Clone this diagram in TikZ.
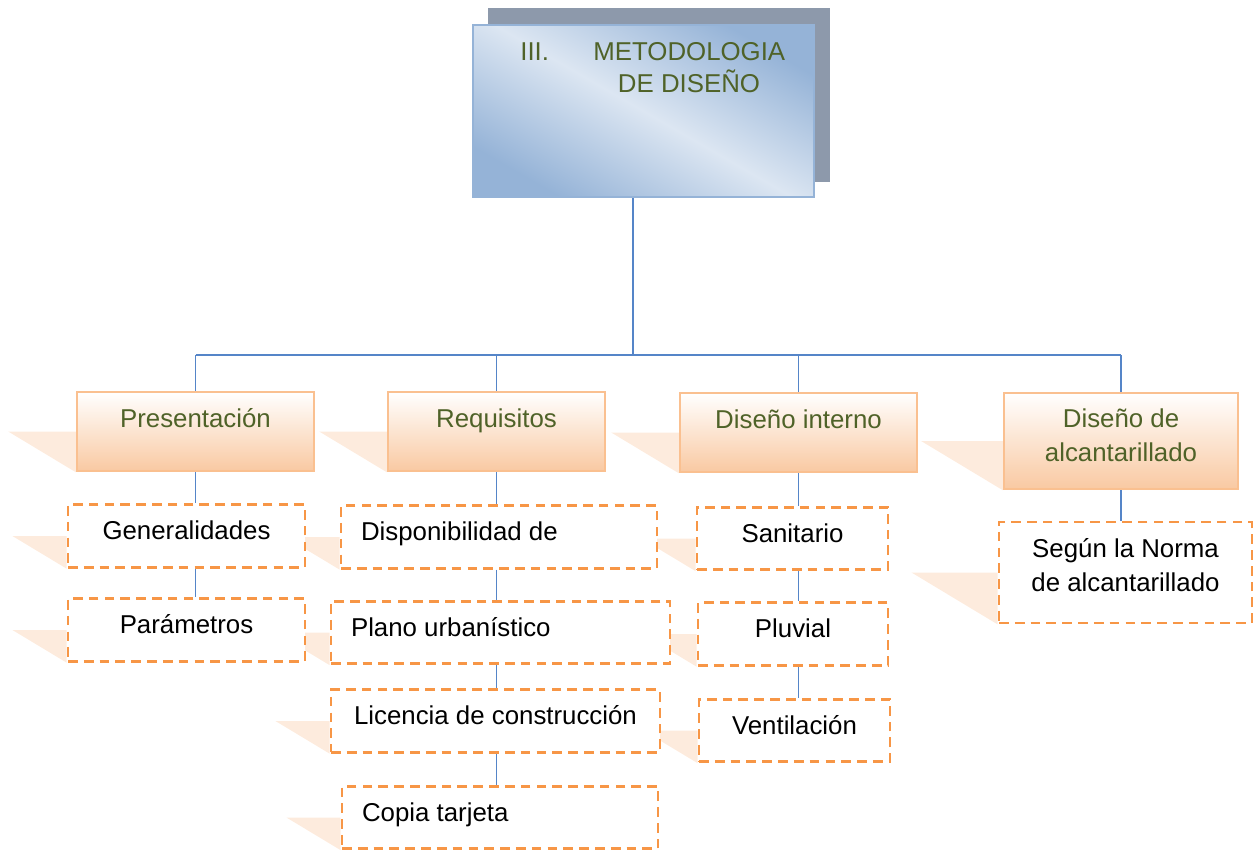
\documentclass[tikz,border=0pt]{standalone}
\usepackage{fontspec}
\setmainfont{Liberation Sans}
\usepackage{tikz}
\usetikzlibrary{calc}
\definecolor{linkblue}{HTML}{5585C8}
\definecolor{topedge}{HTML}{95B3D7}
\definecolor{toplight}{HTML}{DCE6F2}
\definecolor{topshade}{HTML}{8D99AB}
\definecolor{olive}{HTML}{4F6228}
\definecolor{catedge}{HTML}{FAC090}
\definecolor{catbot}{HTML}{F9C9A2}
\definecolor{dashorange}{HTML}{F79646}
\definecolor{wedgepeach}{HTML}{FDEBDD}
\tikzstyle{topbox} = [draw=topedge, line width=1.2pt, top color=topedge, bottom color=topedge,
	middle color=toplight, shading angle=-30, minimum width=6.82cm, minimum height=3.44cm]
\tikzstyle{toptext} = [text=olive, font=\fontsize{14.7}{20}\selectfont]
\tikzstyle{catbox} = [draw=catedge, line width=1.4pt, top color=white, bottom color=catbot, text=olive,
	font=\fontsize{14.7}{19.8}\selectfont, align=center, minimum height=1.58cm,
	text height=11pt, text depth=16pt]
\tikzstyle{subbox} = [draw=dashorange, line width=1.6pt, dash pattern=on 5.5pt off 3.5pt, fill=white,
	font=\fontsize{14.7}{19.8}\selectfont, align=center, minimum height=1.25cm,
	text height=11pt, text depth=6.5pt]
\tikzstyle{link} = [draw=linkblue, line width=0.8pt]
\tikzstyle{wedge} = [fill=wedgepeach]
\pgfdeclarelayer{background}
\pgfsetlayers{background,main}
\newcommand{\shadowof}[1]{\fill[wedge] let \p1=(#1.north west), \p2=(#1.south west) in
	(\x1-0.83*\y1+0.83*\y2, 0.5*\y1+0.5*\y2) -- (#1.west) -- (#1.south west) -- cycle;}
\newcommand{\flushtext}[2]{\makebox[#1][l]{#2}}

\begin{document}
\begin{tikzpicture}[x=0.02cm,y=-0.02cm,inner sep=0pt]
   \useasboundingbox (0,0) rectangle (1256,851);
   \node[topbox] (top) at (643.5,111) {};
   \node[toptext, anchor=base west] (topnum) at (520,61) {III.};
   \node[toptext, anchor=base west] (toptitle) at (593,61) {METODOLOGIA};
   \node[toptext, anchor=base] (toptitle2) at (689,93) {DE DISEÑO};

   \node[catbox, minimum width=4.74cm] (pres) at (195.5,431.5) {Presentación};
   \node[catbox, minimum width=4.34cm] (req) at (496.5,431.5) {Requisitos};
   \node[catbox, minimum width=4.74cm] (dint) at (798.5,432.5) {Diseño interno};
   \node[catbox, minimum width=4.68cm, minimum height=1.92cm, text height=30.8pt, text depth=7pt]
      (dalc) at (1121,441) {Diseño de\\alcantarillado};

   \node[subbox, minimum width=4.74cm] (gen) at (186.5,536) {Generalidades};
   \node[subbox, minimum width=4.74cm] (param) at (186.5,630) {Parámetros};
   \node[subbox, minimum width=6.32cm] (disp) at (499,537) {\flushtext{5.52cm}{Disponibilidad de}};
   \node[subbox, minimum width=6.78cm] (plano) at (500.5,632.5) {\flushtext{5.98cm}{Plano urbanístico}};
   \node[subbox, minimum width=6.58cm] (lic) at (495.5,721) {Licencia de construcción};
   \node[subbox, minimum width=6.32cm] (copia) at (500,817.5) {\flushtext{5.52cm}{Copia tarjeta}};
   \node[subbox, minimum width=3.82cm] (san) at (792.5,538.5) {Sanitario};
   \node[subbox, minimum width=3.80cm] (pluv) at (793,634) {Pluvial};
   \node[subbox, minimum width=3.82cm] (vent) at (794.5,730.5) {Ventilación};
   \node[subbox, minimum width=5.06cm, minimum height=2.02cm, text height=30.8pt, text depth=8.8pt]
      (norma) at (1125.5,572.5) {Según la Norma\\de alcantarillado};

   \begin{pgfonlayer}{background}
   \fill[topshade] ($(top.north west)+(16,-16)$) rectangle ($(top.south east)+(15,-16)$);
   \foreach \b in {pres,req,dint,dalc,gen,param,disp,plano,lic,copia,san,pluv,vent,norma}
      \shadowof{\b};
   \end{pgfonlayer}

   \coordinate (hub) at (633,355);
   \draw[link] (hub |- top.south) -- (hub);
   \draw[link] (hub -| pres.north) -- (hub -| dalc.north);
   \foreach \b in {pres,req,dint,dalc}
      \draw[link] (hub -| \b.north) -- (\b.north);
   \draw[link] (pres.south) -- (pres.south |- gen.north);
   \draw[link] (pres.south |- gen.south) -- (pres.south |- param.north);
   \draw[link] (req.south) -- (req.south |- disp.north);
   \draw[link] (req.south |- disp.south) -- (req.south |- plano.north);
   \draw[link] (req.south |- plano.south) -- (req.south |- lic.north);
   \draw[link] (req.south |- lic.south) -- (req.south |- copia.north);
   \draw[link] (dint.south) -- (dint.south |- san.north);
   \draw[link] (dint.south |- san.south) -- (dint.south |- pluv.north);
   \draw[link] (dint.south |- pluv.south) -- (dint.south |- vent.north);
   \draw[link] (dalc.south) -- (dalc.south |- norma.north);
\end{tikzpicture}
\end{document}
